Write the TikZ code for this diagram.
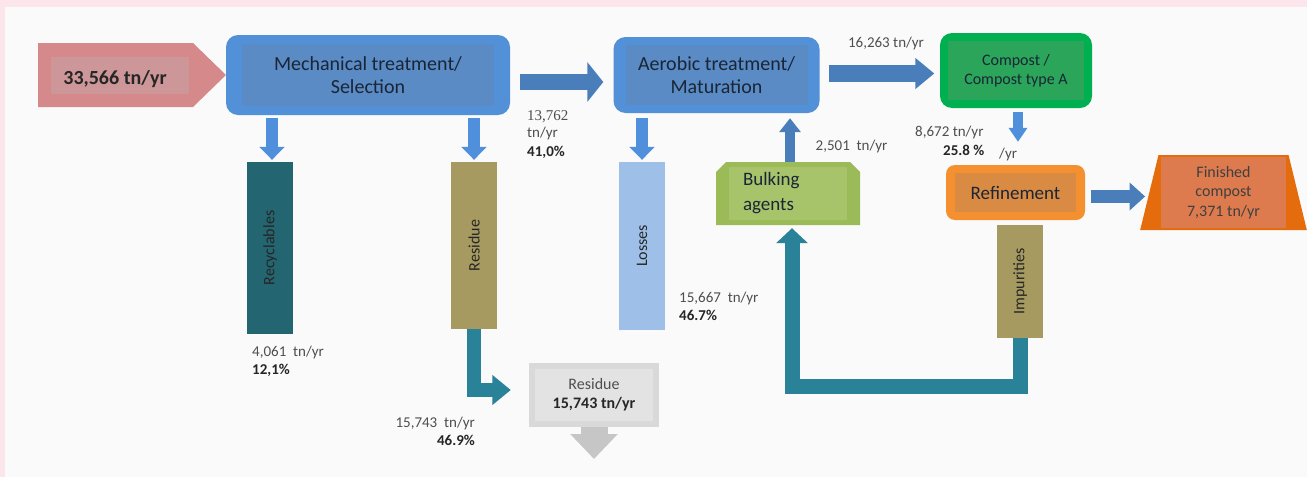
\documentclass[tikz,border=0pt]{standalone}
\usepackage{graphicx}
\usepackage{fontspec}
\setmainfont{Carlito}
\newfontfamily\numserif{Liberation Serif}
\usetikzlibrary{arrows.meta,shapes.geometric,shapes.misc}
\definecolor{pinkbg}{HTML}{FCE6EC}
\definecolor{paper}{HTML}{FAFAFA}
\definecolor{inarrow}{HTML}{D5898B}
\definecolor{inarrowIn}{HTML}{CD9799}
\definecolor{boxblue}{HTML}{5290D8}
\definecolor{boxblueIn}{HTML}{5A8BC5}
\definecolor{arrblue}{HTML}{4A7EBB}
\definecolor{arrblueL}{HTML}{4F8FDB}
\definecolor{compgreen}{HTML}{00B050}
\definecolor{compgreenIn}{HTML}{2AA55A}
\definecolor{reforange}{HTML}{F4902F}
\definecolor{reforangeIn}{HTML}{D98B44}
\definecolor{finor}{HTML}{E56C0C}
\definecolor{finorIn}{HTML}{DE7B4E}
\definecolor{bulk}{HTML}{9BBB59}
\definecolor{bulkIn}{HTML}{A7C46B}
\definecolor{recteal}{HTML}{236570}
\definecolor{resolive}{HTML}{A69A60}
\definecolor{losblue}{HTML}{9DBFE8}
\definecolor{tealarr}{HTML}{2A8299}
\definecolor{greybox}{HTML}{D9D9D9}
\definecolor{greyIn}{HTML}{E3E3E3}
\definecolor{greyarr}{HTML}{C6C6C6}
\definecolor{txtdark}{HTML}{1A2536}
\definecolor{txtgrey}{HTML}{4F4F4F}
\definecolor{txtbold}{HTML}{262626}
\begin{document}
\begin{tikzpicture}[x=1pt,y=-1pt,
  inset/.style n args={3}{path picture={\fill[#1,sharp corners] ([shift={(#2,#3)}]path picture bounding box.south west) rectangle ([shift={(-#2,-#3)}]path picture bounding box.north east);}},
  bluebox/.style={fill=boxblue, rounded corners=12pt, align=center, inner sep=0pt,
     font=\fontsize{20}{23}\selectfont, text=txtdark},
  bar/.style={minimum width=46pt, inner sep=0pt, font=\fontsize{16}{19}\selectfont, text=txtbold},
  lbl/.style={inner sep=0pt, align=left, text=txtgrey, font=\fontsize{15}{18}\selectfont},
  blk/.style n args={4}{draw=#1, line width=#2, -{Triangle[width=#3,length=#4]}},
  tealpipe/.style n args={3}{draw=tealarr, line width=#1, line join=miter, -{Triangle[width=#2,length=#3]}}
]
\useasboundingbox (0,0) rectangle (1307,477);
\fill[pinkbg] (0,0) rectangle (1307,477);
\fill[paper] (5,7) rectangle (1307,477);

% input arrow
\fill[inarrow] (38,43) -- (193,43) -- (226,75) -- (193,107) -- (38,107) -- cycle;
\fill[inarrowIn] (51,57) rectangle (189,94);
\node[inner sep=0pt, font=\fontsize{20}{23}\selectfont\bfseries, text=txtbold] (in) at (115,79) {33,566 tn/yr};

% main boxes
\node[bluebox, minimum width=284pt, minimum height=80pt, inset={boxblueIn}{16pt}{9pt}] (mech) at (368,75) {Mechanical treatment/\\Selection};
\node[bluebox, minimum width=206pt, minimum height=76pt, inset={boxblueIn}{12pt}{8pt}] (aer) at (716.5,75) {Aerobic treatment/\\Maturation};
\node[fill=compgreen, rounded corners=12pt, minimum width=152pt, minimum height=75pt, inner sep=0pt, align=center,
      font=\fontsize{16}{19}\selectfont, text=txtdark, inset={compgreenIn}{8pt}{8pt}] (comp) at (1016,70.5) {Compost /\\Compost type A};
\node[fill=reforange, rounded corners=9pt, minimum width=139pt, minimum height=55pt, inner sep=0pt,
      font=\fontsize{19}{22}\selectfont, text=txtdark, inset={reforangeIn}{9pt}{8pt}] (ref) at (1015.5,192.5) {Refinement};
\node[chamfered rectangle, chamfered rectangle corners={north west,north east}, chamfered rectangle xsep=5pt, chamfered rectangle ysep=5pt,
      fill=bulk, minimum width=144pt, minimum height=63pt, inner sep=0pt, text width=90pt, align=left,
      font=\fontsize{19}{25}\selectfont, text=txtdark, inset={bulkIn}{13pt}{5pt}] (bulk) at (788,193.5) {Bulking\\agents};
\node[trapezium, trapezium stretches=true, trapezium left angle=79, trapezium right angle=79,
      minimum width=167pt, minimum height=75pt, inner sep=0pt, fill=finor, align=center,
      font=\fontsize{16}{19.5}\selectfont, text=txtgrey!80!black, inset={finorIn}{21pt}{2pt}] (fin) at (1223.5,192.5) {Finished\\compost\\7,371 tn/yr};

% bars
\node[bar, fill=recteal, minimum height=172pt] (rec) at (270,248) {\rotatebox{90}{Recyclables}};
\node[bar, fill=resolive, minimum height=167pt] (resbar) at (474,245.5) {\rotatebox{90}{Residue}};
\node[bar, fill=losblue, minimum height=168pt] (los) at (642,246) {\rotatebox{90}{Losses}};
\node[bar, fill=resolive, minimum height=113pt] (imp) at (1020,281.5) {\rotatebox{90}{Impurities}};

% residue output box
\node[fill=greybox, minimum width=130pt, minimum height=64pt, inner sep=0pt, align=center,
      font=\fontsize{16}{19}\selectfont, text=txtgrey, inset={greyIn}{6pt}{6pt}] (resbox) at (594,395) {Residue\\\textcolor{txtbold}{\bfseries 15,743 tn/yr}};
\coordinate (resout) at (594,459);
\draw[blk={greyarr}{27pt}{46pt}{25pt}] (resbox.south) -- (resout);

% blue arrows
\draw[blk={arrblue}{16pt}{39pt}{16pt}, shorten <=10pt, shorten >=10pt] ([yshift=-7pt]mech.east) -- ([yshift=-7pt]aer.west);
\draw[blk={arrblue}{17pt}{30pt}{19pt}, shorten <=9pt, shorten >=5.5pt] ([yshift=1.5pt]aer.east) -- ([yshift=1.5pt]aer.east -| comp.west);
\draw[blk={arrblueL}{10.5pt}{18pt}{14pt}, shorten <=4pt, shorten >=23pt] ([xshift=2pt]comp.south) -- ([xshift=2pt]comp.south |- ref.north);
\draw[blk={arrblue}{13pt}{27pt}{15.5pt}, shorten <=5.5pt, shorten >=4pt] ([yshift=-4pt]ref.east) -- ([yshift=-4pt]ref.east -| fin.west);
\draw[blk={arrblue}{10pt}{21pt}{14pt}, shorten >=5pt] ([xshift=2pt]bulk.north) -- ([xshift=2pt]bulk.north |- aer.south);
\draw[blk={arrblueL}{12pt}{25pt}{13pt}, shorten <=3pt, shorten >=2pt] ([xshift=2pt]mech.south -| rec.north) -- ([xshift=2pt]rec.north);
\draw[blk={arrblueL}{12pt}{25pt}{13pt}, shorten <=3pt, shorten >=2pt] (mech.south -| resbar.north) -- (resbar.north);
\draw[blk={arrblueL}{12pt}{25pt}{13pt}, shorten <=5pt, shorten >=2pt] (aer.south -| los.north) -- (los.north);

% teal pipes
\draw[tealpipe={14pt}{29pt}{18.5pt}, shorten >=18pt] (resbar.south) |- ([yshift=5pt]resbox.west);
\coordinate (loopy) at (900,386);
\draw[tealpipe={15pt}{31pt}{15pt}, shorten >=3pt] (imp.south) -- (imp.south |- loopy) -| ([xshift=4pt]bulk.south);

% labels
\node[lbl, anchor=west] (l1) at (527,134.5) {{\numserif 13,762}\\[-1pt]tn/yr\\[1pt]\textcolor{txtbold}{\bfseries 41,0\%}};
\node[lbl, anchor=center] (l2) at (886,43) {16,263 tn/yr};
\node[lbl, anchor=west] (l3) at (252,361) {4,061\ \ tn/yr\\\textcolor{txtbold}{\bfseries 12,1\%}};
\node[lbl, anchor=west] (l4) at (679,306) {15,667\ \ tn/yr\\\textcolor{txtbold}{\bfseries 46.7\%}};
\node[lbl, anchor=east, align=right] (l5) at (475,431) {15,743\ \ tn/yr\\\textcolor{txtbold}{\bfseries 46.9\%}};
\node[lbl, anchor=west] (l6) at (815.5,146) {2,501\ \ tn/yr};
\node[lbl, anchor=west] (l7) at (915,132) {8,672 tn/yr};
\node[lbl, anchor=west, text=txtbold, font=\fontsize{15}{18}\selectfont\bfseries] (l8) at (943,150) {25.8 \%};
\node[lbl, anchor=west] (l9) at (999,154) {/yr};
\end{tikzpicture}
\end{document}
